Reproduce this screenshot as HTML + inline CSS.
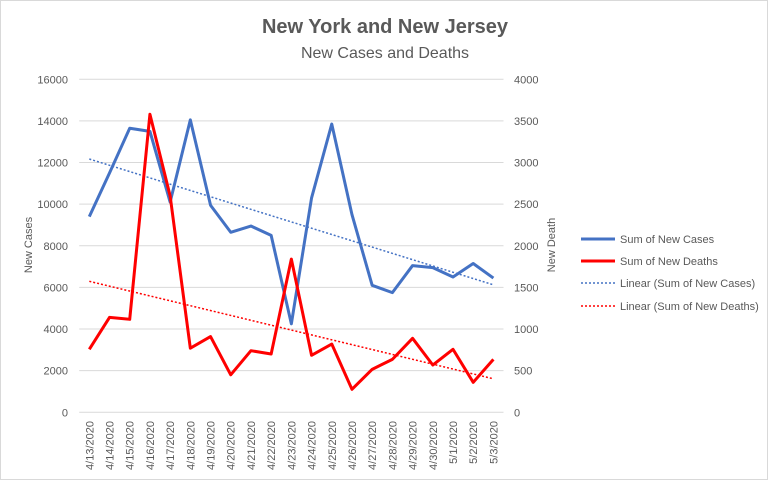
<!DOCTYPE html>
<html><head><meta charset="utf-8"><style>
body{margin:0;background:#fff}
svg{display:block;font-family:"Liberation Sans",sans-serif}
</style></head><body>
<svg id="chart" width="769" height="481">
<rect x="0.5" y="0.5" width="767" height="479" fill="#fff" stroke="#d9d9d9"/>
<text x="385" y="33" text-anchor="middle" font-size="20" font-weight="bold" fill="#595959">New York and New Jersey</text>
<text x="385" y="58" text-anchor="middle" font-size="16" fill="#595959">New Cases and Deaths</text>
<text transform="translate(32,245) rotate(-90)" text-anchor="middle" font-size="11" fill="#595959">New Cases</text>
<text transform="translate(555,245) rotate(-90)" text-anchor="middle" font-size="11" fill="#595959">New Death</text>
<g id="grid"></g><g id="marks"></g><g id="labels"></g>
<g font-size="11" fill="#595959">
<line x1="581" y1="239" x2="615" y2="239" stroke="#4472c4" stroke-width="3"/>
<text x="620" y="243">Sum of New Cases</text>
<line x1="581" y1="261" x2="615" y2="261" stroke="#ff0000" stroke-width="3"/>
<text x="620" y="265">Sum of New Deaths</text>
<line x1="581" y1="283" x2="615" y2="283" stroke="#4472c4" stroke-width="1.5" stroke-dasharray="2,2"/>
<text x="620" y="287">Linear (Sum of New Cases)</text>
<line x1="581" y1="306" x2="615" y2="306" stroke="#ff0000" stroke-width="1.5" stroke-dasharray="2,2"/>
<text x="620" y="310">Linear (Sum of New Deaths)</text>
</g>
</svg>
<script>
const categories=["4/13/2020","4/14/2020","4/15/2020","4/16/2020","4/17/2020","4/18/2020","4/19/2020","4/20/2020","4/21/2020","4/22/2020","4/23/2020","4/24/2020","4/25/2020","4/26/2020","4/27/2020","4/28/2020","4/29/2020","4/30/2020","5/1/2020","5/2/2020","5/3/2020"];
const cases=[9400,11500,13650,13500,10100,14050,9950,8650,8950,8500,4250,10300,13850,9500,6100,5750,7050,6950,6500,7150,6450];
const deaths=[757,1140,1117,3580,2600,770,910,450,740,700,1840,685,820,276,516,636,889,568,757,360,636];
const leftTicks=[0,2000,4000,6000,8000,10000,12000,14000,16000];
const rightTicks=[0,500,1000,1500,2000,2500,3000,3500,4000];
const NS="http://www.w3.org/2000/svg";
const L=79.2,R=503.5,T=79.3,B=412.3;
const bw=(R-L)/categories.length;
const x=i=>L+bw*(i+0.5);
const yL=v=>B-(v/16000)*(B-T);
const yR=v=>B-(v/4000)*(B-T);
function mk(tag,attrs,parent){const e=document.createElementNS(NS,tag);for(const k in attrs)e.setAttribute(k,attrs[k]);document.getElementById(parent).appendChild(e);return e;}
leftTicks.forEach((t,i)=>{
 const g=mk('line',{x1:L,x2:R,y1:yL(t),y2:yL(t),stroke:'#d9d9d9','stroke-width':1},'grid');
 
 
 const tx=mk('text',{x:68,y:yL(t)+4,'text-anchor':'end','font-size':11,fill:'#595959'},'labels');
 tx.textContent=t;
 
 
});
rightTicks.forEach(t=>{
 const tx=mk('text',{x:514,y:yR(t)+4,'font-size':11,fill:'#595959'},'labels');
 tx.textContent=t;
 
 
});
categories.forEach((c,i)=>{
 const tx=mk('text',{transform:`translate(${x(i)+4},421) rotate(-90)`,'text-anchor':'end','font-size':11,fill:'#595959'},'labels');
 tx.textContent=c;
 
 
});
function fit(a){const n=a.length;let sx=0,sy=0,sxy=0,sxx=0;a.forEach((v,i)=>{sx+=i;sy+=v;sxy+=i*v;sxx+=i*i});const m=(n*sxy-sx*sy)/(n*sxx-sx*sx);return [m,(sy-m*sx)/n];}
const [mc,bc]=fit(cases),[md,bd]=fit(deaths);
const n=categories.length-1;
let t1=mk('line',{x1:x(0),y1:yL(bc),x2:x(n),y2:yL(bc+mc*n),stroke:'#4472c4','stroke-width':1.5,'stroke-dasharray':'2,2'},'marks');


let t2=mk('line',{x1:x(0),y1:yR(bd),x2:x(n),y2:yR(bd+md*n),stroke:'#ff0000','stroke-width':1.5,'stroke-dasharray':'2,2'},'marks');


let p1=mk('polyline',{points:cases.map((v,i)=>x(i)+','+yL(v)).join(' '),fill:'none',stroke:'#4472c4','stroke-width':3,'stroke-linejoin':'round'},'marks');


let p2=mk('polyline',{points:deaths.map((v,i)=>x(i)+','+yR(v)).join(' '),fill:'none',stroke:'#ff0000','stroke-width':3,'stroke-linejoin':'round'},'marks');


</script>
</body></html>
